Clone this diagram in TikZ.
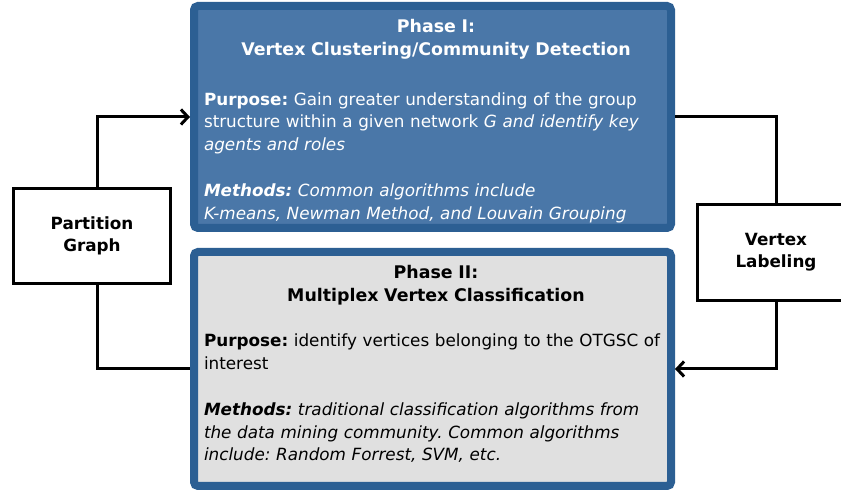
\documentclass[tikz,border=0pt]{standalone}
\usepackage{fontspec}
\setmainfont{DejaVu Sans}
\usepackage{xcolor}
\usetikzlibrary{shapes,arrows.meta,positioning}

\setlength{\parindent}{0pt}
\frenchspacing
\definecolor{phaseborder}{HTML}{2C5F93}
\definecolor{phaseblue}{HTML}{4A77A8}
\definecolor{phasegray}{HTML}{E0E0E0}
\newcommand{\phasehead}{\centering\fontsize{17.4}{22.8}\selectfont\bfseries}

\begin{document}
\begin{tikzpicture}[
    x=1pt, y=1pt,
    phase/.style={rectangle, draw=phaseborder, line width=8pt, rounded corners=4pt, minimum width=477pt},
    phasetext/.style={text width=464pt, align=left, inner sep=0pt, xshift=3.5pt, font=\fontsize{16.8}{22.8}\selectfont},
    side/.style={rectangle, draw, line width=3pt, fill=white, minimum width=157pt, minimum height=95pt, align=center, font=\fontsize{16.8}{22}\selectfont\bfseries},
    arrow/.style={line width=3pt, -{Straight Barb[length=7pt,width=15pt]}},
    link/.style={line width=3pt}
]
    \useasboundingbox (0,0) rectangle (841,500);

    % Phases
    \node[phase, fill=phaseblue, minimum height=222pt] (phaseI) at (432.5,383) {};
    \node[phase, fill=phasegray, minimum height=234pt] (phaseII) at (432.5,131) {};

    \node[phasetext, text=white, below=17pt of phaseI.north] (phaseItext) {%
        {\phasehead Phase I:\\Vertex Clustering/Community Detection\par}
        \vspace{27pt}
        \textbf{Purpose:} Gain greater understanding of the group\\
        structure within a given network \textit{G and identify key}\\
        \textit{agents and roles}\par
        \vspace{22.8pt}
        \textbf{\textit{Methods:}} \textit{Common algorithms include}\\
        \textit{K-means, Newman Method, and Louvain Grouping}};

    \node[phasetext, below=17pt of phaseII.north] (phaseIItext) {%
        {\phasehead Phase II:\\Multiplex Vertex Classification\par}
        \vspace{22.8pt}
        \textbf{Purpose:} identify vertices belonging to the OTGSC of\\
        interest\par
        \vspace{22.8pt}
        \textbf{\textit{Methods:}} \textit{traditional classification algorithms from}\\
        \textit{the data mining community. Common algorithms}\\
        \textit{include: Random Forrest, SVM, etc.}};

    % Side boxes
    \node[side] (partition) at (92,264) {Partition\\Graph};
    \node[side, minimum height=96pt] (labeling) at (776,247.5) {Vertex\\Labeling};

    % Arrows - the loop
    \draw[arrow] ([xshift=5pt]partition.north) |- (phaseI.west);
    \draw[link] (phaseI.east) -| (labeling.north);
    \draw[arrow] (labeling.south) |- (phaseII.east);
    \draw[link] ([xshift=5pt]partition.south) |- (phaseII.west);

\end{tikzpicture}
\end{document}
